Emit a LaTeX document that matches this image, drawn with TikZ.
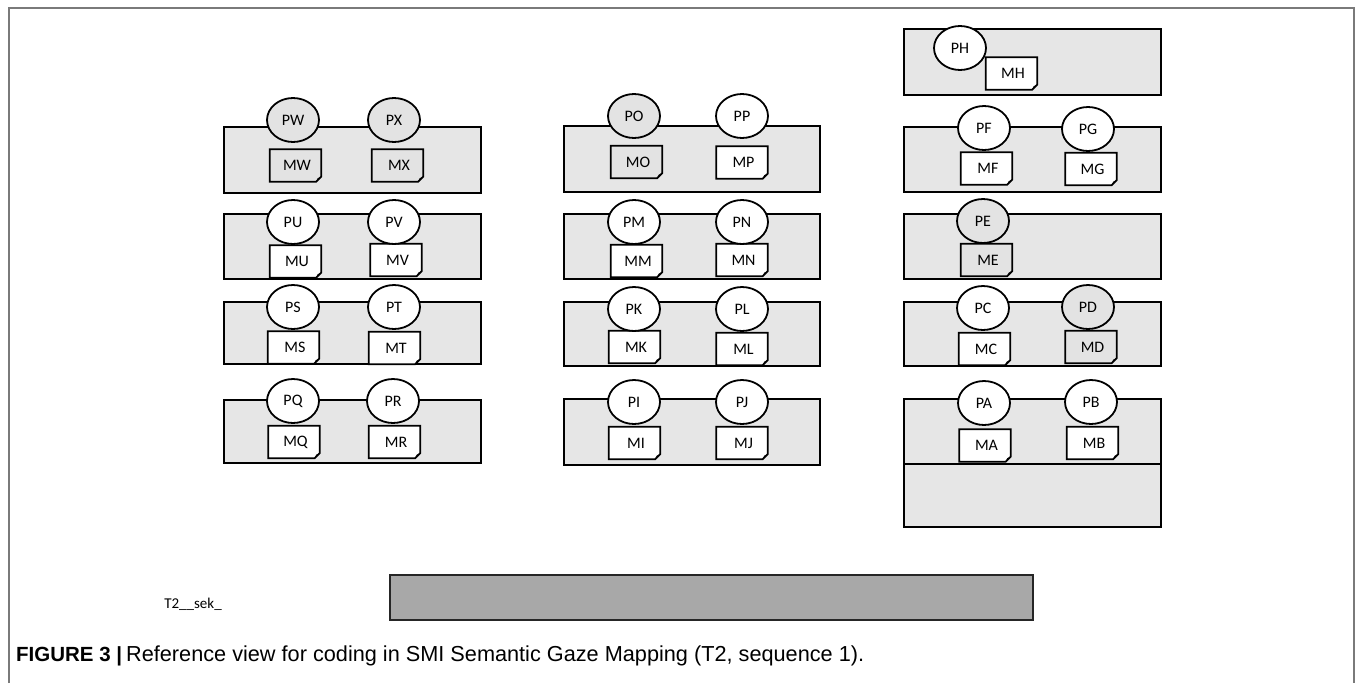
\documentclass[tikz,border=0pt]{standalone}
\usepackage{fontspec}
\usepackage{graphicx}
\setmainfont{Carlito}
\newfontfamily\capfont{Liberation Sans}
\usetikzlibrary{shapes.geometric}
\pgfdeclarelayer{back}
\pgfdeclarelayer{mid}
\pgfsetlayers{back,mid,main}
\definecolor{panelgray}{HTML}{E6E6E6}
\definecolor{markgray}{HTML}{E3E3E3}
\definecolor{bargray}{HTML}{A8A8A8}
\definecolor{framegray}{HTML}{7A7A7A}
\tikzset{
  panel/.style={draw=black, line width=2.1pt, fill=panelgray, rectangle, inner sep=0pt},
  person/.style={draw=black, line width=1.8pt, ellipse, minimum width=52pt, minimum height=44pt, inner sep=0pt, font=\fontsize{16}{18}\selectfont},
  doc/.style={rectangle, minimum width=51pt, minimum height=32pt, inner sep=0pt, font=\fontsize{16}{18}\selectfont},
  docline/.style={draw=black, line width=1.8pt, line join=miter},
  bar/.style={draw=black!85, line width=2.2pt, fill=bargray, rectangle, inner sep=0pt},
  framel/.style={draw=framegray, line width=1.2pt},
  lbl/.style={inner sep=0pt, font=\fontsize{15}{17}\selectfont}
}
\newcommand\fold{5pt}
\newcommand\docbox[4]{%
  \node[doc] (#1) at (#2) {\hspace*{3pt}#4};
  \begin{pgfonlayer}{mid}
  \draw[docline, fill=#3] (#1.north west) -- (#1.north east) -- ([yshift=\fold]#1.south east) -- ([xshift=-\fold]#1.south east) -- (#1.south west) -- cycle;
  \fill[black] ([yshift=\fold]#1.south east) -- ([xshift=-\fold]#1.south east) -- ([xshift=-3.5pt,yshift=3.5pt]#1.south east) -- cycle;
  \end{pgfonlayer}}
\begin{document}
\begin{tikzpicture}[x=1pt,y=-1pt]
\useasboundingbox (0,0) rectangle (1355,683);
% outer frame
\coordinate (fTL) at (9,8);
\coordinate (fTR) at (1354,8);
\coordinate (fBL) at (9,683);
\coordinate (fBR) at (1354,683);
\draw[framel] (fBL) -- (fTL) -- (fTR) -- (fBR);
% panels
\begin{pgfonlayer}{back}
\node[panel, minimum width=257pt, minimum height=66pt] (b1) at (352.5,160) {};
\node[panel, minimum width=257pt, minimum height=65pt] (b2) at (352.5,246.5) {};
\node[panel, minimum width=257pt, minimum height=62pt] (b3) at (352.5,333) {};
\node[panel, minimum width=257pt, minimum height=63pt] (b4) at (352.5,431.5) {};
\node[panel, minimum width=256pt, minimum height=66pt] (b5) at (692,159) {};
\node[panel, minimum width=256pt, minimum height=65pt] (b6) at (692,246.5) {};
\node[panel, minimum width=256pt, minimum height=64pt] (b7) at (692,334) {};
\node[panel, minimum width=256pt, minimum height=66pt] (b8) at (692,432) {};
\node[panel, minimum width=257pt, minimum height=66pt] (b9) at (1032.5,62) {};
\node[panel, minimum width=257pt, minimum height=65pt] (b10) at (1032.5,159.5) {};
\node[panel, minimum width=257pt, minimum height=65pt] (b11) at (1032.5,246.5) {};
\node[panel, minimum width=257pt, minimum height=64pt] (b12) at (1032.5,334) {};
\node[panel, minimum width=257pt, minimum height=65pt] (b13) at (1032.5,431.5) {};
\node[panel, minimum width=257pt, minimum height=63pt] (b14) at (1032.5,495.5) {};
\node[bar, minimum width=643pt, minimum height=45pt] (bar) at (711.5,597.5) {};
\end{pgfonlayer}
% documents
\docbox{MW}{295.5,165.5}{markgray}{MW}
\docbox{MX}{397.5,165.5}{markgray}{MX}
\docbox{MU}{295.5,261.5}{white}{MU}
\docbox{MV}{396,260}{white}{MV}
\docbox{MS}{293.5,347.5}{white}{MS}
\docbox{MT}{394.5,348}{white}{MT}
\docbox{MQ}{294,442}{white}{MQ}
\docbox{MR}{394.5,442}{white}{MR}
\docbox{MO}{636.5,162}{markgray}{MO}
\docbox{MP}{742,162.5}{white}{MP}
\docbox{MM}{636.5,261}{white}{MM}
\docbox{MN}{742,260}{white}{MN}
\docbox{MK}{634.5,347}{white}{MK}
\docbox{ML}{742,349}{white}{ML}
\docbox{MI}{634.5,443}{white}{MI}
\docbox{MJ}{742,443}{white}{MJ}
\docbox{MH}{1011.5,73.5}{white}{MH}
\docbox{MF}{986.5,168.5}{white}{MF}
\docbox{MG}{1091,169}{white}{MG}
\docbox{ME}{986.5,260}{markgray}{ME}
\docbox{MC}{984.5,349}{white}{MC}
\docbox{MD}{1091,347}{markgray}{MD}
\docbox{MA}{985,445.5}{white}{MA}
\docbox{MB}{1092.5,443}{white}{MB}
% persons
\node[person, fill=markgray] (PW) at (293,120) {PW};
\node[person, fill=markgray] (PX) at (394,120) {PX};
\node[person, fill=white] (PU) at (293,222) {PU};
\node[person, fill=white] (PV) at (394,222) {PV};
\node[person, fill=white] (PS) at (293,307) {PS};
\node[person, fill=white] (PT) at (394,307) {PT};
\node[person, fill=white] (PQ) at (293,401) {PQ};
\node[person, fill=white] (PR) at (393,401) {PR};
\node[person, fill=markgray] (PO) at (634,116) {PO};
\node[person, fill=white] (PP) at (742,116) {PP};
\node[person, fill=white] (PM) at (634,222) {PM};
\node[person, fill=white] (PN) at (742,222) {PN};
\node[person, fill=white] (PK) at (634,309) {PK};
\node[person, fill=white] (PL) at (742,309) {PL};
\node[person, fill=white] (PI) at (634,402) {PI};
\node[person, fill=white] (PJ) at (742,402) {PJ};
\node[person, fill=white] (PH) at (960,48) {PH};
\node[person, fill=white] (PF) at (984,128) {PF};
\node[person, fill=white] (PG) at (1088,129) {PG};
\node[person, fill=markgray] (PE) at (983,221) {PE};
\node[person, fill=white] (PC) at (983,308) {PC};
\node[person, fill=markgray] (PD) at (1088,307) {PD};
\node[person, fill=white] (PA) at (984,403) {PA};
\node[person, fill=white] (PB) at (1091,402) {PB};
% label
\node[lbl] (t2) at (193,604) {T2\_\_sek\_};
% caption
\node[anchor=base west, inner sep=0pt] (cap) at (16,661) {\capfont\fontsize{20.5}{22}\selectfont\textbf{FIGURE 3 |}\hspace{4pt}\resizebox{738pt}{!}{\fontsize{19}{21}\selectfont Reference view for coding in SMI Semantic Gaze Mapping (T2, sequence 1).}};
\end{tikzpicture}
\end{document}
